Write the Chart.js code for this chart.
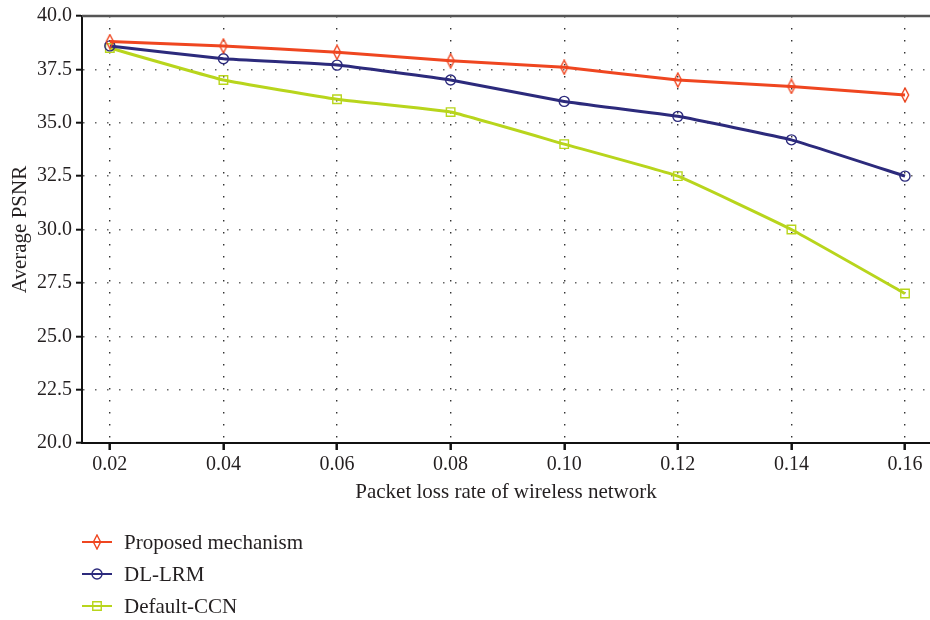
<!DOCTYPE html>
<html>
<head>
<meta charset="utf-8">
<script src="https://cdn.jsdelivr.net/npm/chart.js@4/dist/chart.umd.min.js"></script>
<style>
  html, body { margin: 0; padding: 0; background: #fff; }
  #wrap { width: 930px; height: 620px; }
</style>
</head>
<body>
<div id="wrap"><canvas id="psnrChart" width="930" height="620"></canvas></div>
<script>
// Packet loss rates (x axis)
var lossRates = [0.02, 0.04, 0.06, 0.08, 0.10, 0.12, 0.14, 0.16];

// Average PSNR per method
var proposedPsnr = [38.8, 38.6, 38.3, 37.9, 37.6, 37.0, 36.7, 36.3];
var dlLrmPsnr    = [38.6, 38.0, 37.7, 37.0, 36.0, 35.3, 34.2, 32.5];
var defaultCcnPsnr = [38.5, 37.0, 36.1, 35.5, 34.0, 32.5, 30.0, 27.0];

var seriesNames = ['Proposed mechanism', 'DL-LRM', 'Default-CCN'];

var serifFont = '"Liberation Serif", "DejaVu Serif", serif';

// tall diamond marker for the proposed mechanism
function makeDiamond(color) {
    var c = document.createElement('canvas');
    c.width = 10;
    c.height = 16;
    var g = c.getContext('2d');
    g.strokeStyle = color;
    g.lineWidth = 1.4;
    g.beginPath();
    g.moveTo(5, 1);
    g.lineTo(8.6, 8);
    g.lineTo(5, 15);
    g.lineTo(1.4, 8);
    g.closePath();
    g.stroke();
    return c;
}

var colors = ['#ef4620', '#2c2a7c', '#b8d51c'];
var diamond = makeDiamond(colors[0]);

function toPoints(values) {
    return lossRates.map(function(x, i) { return { x: x, y: values[i] }; });
}

// draws the top frame line and the stacked legend under the axis title
var framePlugin = {
    id: 'frameAndLegend',
    beforeDatasetsDraw: function(chart) {
        var ctx = chart.ctx, a = chart.chartArea;
        ctx.save();
        ctx.strokeStyle = '#555';
        ctx.lineWidth = 2.5;
        ctx.beginPath();
        ctx.moveTo(a.left, a.top);
        ctx.lineTo(a.right, a.top);
        ctx.stroke();
        ctx.restore();
    },
    afterDraw: function(chart) {
        var ctx = chart.ctx;
        ctx.save();
        chart.data.datasets.forEach(function(ds, i) {
            var y = 542 + i * 32;
            ctx.strokeStyle = ds.borderColor;
            ctx.lineWidth = 2;
            ctx.beginPath();
            ctx.moveTo(82, y);
            ctx.lineTo(112, y);
            ctx.stroke();
            ctx.fillStyle = 'rgba(0,0,0,0)';
            ctx.lineWidth = ds.pointBorderWidth;
            Chart.helpers.drawPoint(ctx, {
                pointStyle: ds.pointStyle,
                radius: ds.pointRadius,
                borderWidth: ds.pointBorderWidth,
                rotation: 0
            }, 97, y);
            ctx.fillStyle = '#231f20';
            ctx.font = '21px ' + serifFont;
            ctx.textBaseline = 'middle';
            ctx.textAlign = 'left';
            ctx.fillText(ds.label, 124, y + 1);
        });
        ctx.restore();
    }
};

var ctx = document.getElementById('psnrChart').getContext('2d');
var psnrChart = new Chart(ctx, {
    type: 'line',
    data: {
        datasets: [{
            label: seriesNames[0],
            data: toPoints(proposedPsnr),
            borderColor: colors[0],
            backgroundColor: 'rgba(0,0,0,0)',
            pointBorderColor: colors[0],
            pointStyle: diamond,
            pointRadius: 5,
            pointBorderWidth: 1.4,
            borderWidth: 3,
            tension: 0.1
        }, {
            label: seriesNames[1],
            data: toPoints(dlLrmPsnr),
            borderColor: colors[1],
            backgroundColor: 'rgba(0,0,0,0)',
            pointBorderColor: colors[1],
            pointStyle: 'circle',
            pointRadius: 5,
            pointBorderWidth: 1.4,
            borderWidth: 3,
            tension: 0.1
        }, {
            label: seriesNames[2],
            data: toPoints(defaultCcnPsnr),
            borderColor: colors[2],
            backgroundColor: 'rgba(0,0,0,0)',
            pointBorderColor: colors[2],
            pointStyle: 'rect',
            pointRadius: 6,
            pointBorderWidth: 1.4,
            borderWidth: 3,
            tension: 0.1
        }]
    },
    options: {
        responsive: false,
        animation: false,
        layout: {
            autoPadding: false,
            padding: { top: 14, right: 0, bottom: 110, left: 0 }
        },
        plugins: {
            legend: { display: false },
            tooltip: { enabled: false }
        },
        scales: {
            x: {
                type: 'linear',
                min: 0.0151,
                max: 0.1644,
                afterBuildTicks: function(scale) {
                    scale.ticks = lossRates.map(function(v) { return { value: v }; });
                },
                afterFit: function(scale) {
                    scale.height = 67;
                    scale.paddingLeft = 0;
                    scale.paddingRight = 0;
                },
                border: { display: true, color: '#111', width: 2, dash: [1.5, 10.5] },
                grid: {
                    color: '#333',
                    lineWidth: 1.4,
                    tickLength: 7,
                    tickColor: '#111',
                    tickWidth: 2.5,
                    tickBorderDash: []
                },
                ticks: {
                    color: '#231f20',
                    padding: 3,
                    maxRotation: 0,
                    font: { family: serifFont, size: 20 },
                    callback: function(v) { return v.toFixed(2); }
                },
                title: {
                    display: true,
                    text: 'Packet loss rate of wireless network',
                    color: '#231f20',
                    font: { family: serifFont, size: 21 },
                    padding: { top: 0, bottom: 5 }
                }
            },
            y: {
                min: 20,
                max: 40,
                afterFit: function(scale) { scale.width = 82; },
                border: { display: true, color: '#111', width: 2, dash: [1.5, 10.5] },
                grid: {
                    color: '#666',
                    lineWidth: 1.4,
                    tickLength: 6,
                    tickColor: '#111',
                    tickWidth: 2,
                    tickBorderDash: []
                },
                ticks: {
                    stepSize: 2.5,
                    color: '#231f20',
                    padding: 4,
                    font: { family: serifFont, size: 20 },
                    callback: function(v) { return v.toFixed(1); }
                },
                title: {
                    display: true,
                    text: 'Average PSNR',
                    color: '#231f20',
                    font: { family: serifFont, size: 21 },
                    padding: { top: 8, bottom: 0 }
                }
            }
        }
    },
    plugins: [framePlugin]
});
</script>
</body>
</html>
